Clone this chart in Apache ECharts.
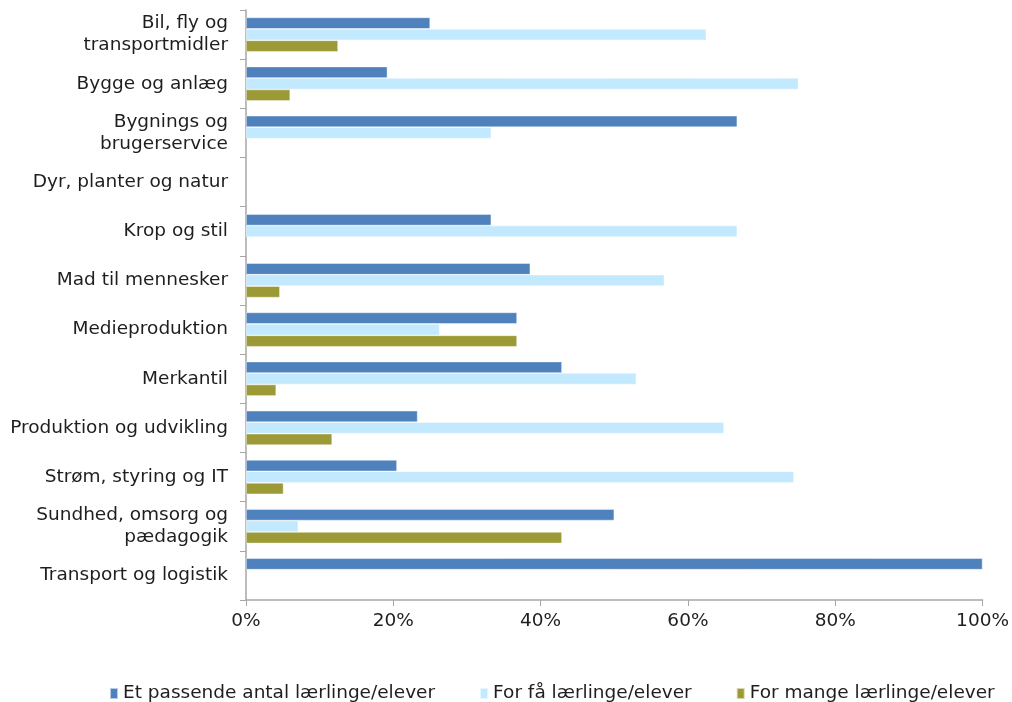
<!DOCTYPE html>
<html><head><meta charset="utf-8">
<script src="https://cdn.jsdelivr.net/npm/echarts@6/dist/echarts.min.js"></script>
<style>html,body{margin:0;padding:0;background:#fff}#c{width:1012px;height:702px}</style>
</head><body><div id="c"></div>
<script>
const categories = ["Bil, fly og\ntransportmidler","Bygge og anlæg","Bygnings og\nbrugerservice","Dyr, planter og natur","Krop og stil","Mad til mennesker","Medieproduktion","Merkantil","Produktion og udvikling","Strøm, styring og IT","Sundhed, omsorg og\npædagogik","Transport og logistik"];
const seriesNames = ["Et passende antal lærlinge/elever","For få lærlinge/elever","For mange lærlinge/elever"];
const passende = [25, 19.2, 66.7, 0, 33.3, 38.6, 36.8, 42.9, 23.3, 20.5, 50, 100];
const forFaa   = [62.5, 75, 33.3, 0, 66.7, 56.8, 26.3, 53, 64.9, 74.4, 7.1, 0];
const forMange = [12.5, 6, 0, 0, 0, 4.6, 36.8, 4.1, 11.7, 5.1, 42.9, 0];
const xTicks = [0, 20, 40, 60, 80, 100];
const colors = ["#4F81BD", "#C2E9FE", "#9C9A37"];

const chart = echarts.init(document.getElementById('c'));
const font = "DejaVu Sans, Verdana, sans-serif";
const mk = (name, data, i) => ({
  name, type: 'bar', data: data.map(v => v === 0 ? null : v),
  barGap: '0%', barCategoryGap: '30%',
  itemStyle: { color: colors[i], borderColor: 'rgba(255,255,255,0.6)', borderWidth: 0.7 }
});
chart.setOption({
  animation: false,
  color: colors,
  grid: { left: 246, right: 28, top: 10, bottom: 102, containLabel: false },
  xAxis: {
    type: 'value', min: xTicks[0], max: xTicks[xTicks.length - 1], interval: 20,
    axisLine: { show: true, lineStyle: { color: '#A6A6A6', width: 1.5 } },
    axisTick: { show: true, length: 6, lineStyle: { color: '#A6A6A6' } },
    splitLine: { show: false },
    axisLabel: { formatter: v => v + '%', color: '#1e1e1e', fontSize: 18.5, fontFamily: font, margin: 12 }
  },
  yAxis: {
    type: 'category', data: categories, inverse: true,
    axisLine: { show: true, lineStyle: { color: '#A6A6A6', width: 1.5 } },
    axisTick: { show: true, length: 6, alignWithLabel: false, lineStyle: { color: '#A6A6A6' } },
    axisLabel: { color: '#1e1e1e', fontSize: 18.5, fontFamily: font, margin: 18, lineHeight: 22, align: 'right' }
  },
  legend: {
    top: 679, left: 104, itemWidth: 8, itemHeight: 11, itemGap: 44, itemTextGap: 5, icon: 'rect',
    textStyle: { color: '#1e1e1e', fontSize: 18.5, fontFamily: font },
    data: seriesNames
  },
  series: [mk(seriesNames[0], passende, 0), mk(seriesNames[1], forFaa, 1), mk(seriesNames[2], forMange, 2)]
});
</script></body></html>
